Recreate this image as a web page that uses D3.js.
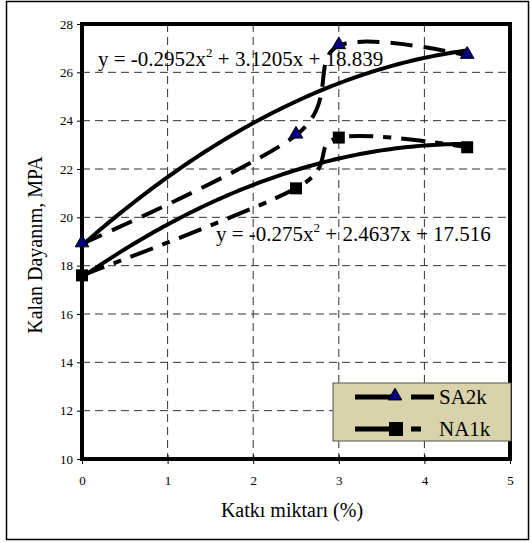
<!DOCTYPE html>
<html>
<head>
<meta charset="utf-8">
<script src="https://cdn.jsdelivr.net/npm/d3@7"></script>
<style>
	body { margin: 0; background: #fff; }
	svg text { font-family: "Liberation Serif", "Times New Roman", "DejaVu Serif", serif; }
</style>
</head>
<body>
<div id="chart"></div>
<script>
	//data
	var katki = [0, 2.5, 3, 4.5];
	var sa2k = [18.9, 23.4, 27.1, 26.7];
	var na1k = [17.6, 21.2, 23.3, 22.9];

	var seriesNames = ["SA2k", "NA1k"];

	//trendline coefficients (a, b, c) for y = ax^2 + bx + c
	var trendSA = [-0.2952, 3.1205, 18.839];
	var trendNA = [-0.275, 2.4637, 17.516];
	var trendLabels = ["y = -0.2952x", " + 3.1205x + 18.839", "y = -0.275x", " + 2.4637x + 17.516"];

	var xTicks = [0, 1, 2, 3, 4, 5];
	var yTicks = [10, 12, 14, 16, 18, 20, 22, 24, 26, 28];

	//Width and height
	var w = 531;
	var h = 543;

	//plot area edges (don't call it "top", window.top is read-only)
	var padLeft = 82, padRight = 510, padTop = 24, padBottom = 459;

	var serif = "'Liberation Serif', 'Times New Roman', serif";

	var svg = d3.select("#chart")
				.append("svg")
				.attr("width", w)
				.attr("height", h);

	//outer frame
	svg.append("rect")
	   .attr("x", 6.5).attr("y", 1.5)
	   .attr("width", 522).attr("height", 538)
	   .attr("fill", "none")
	   .attr("stroke", "#000")
	   .attr("stroke-width", 1.5);

	var x = d3.scaleLinear().domain([0, 5]).range([padLeft, padRight]);
	var y = d3.scaleLinear().domain([10, 28]).range([padBottom, padTop]);

	//grid lines
	svg.selectAll(".hgrid")
	   .data(yTicks.slice(1, -1))
	   .enter()
	   .append("line")
	   .attr("x1", padLeft).attr("x2", padRight)
	   .attr("y1", function(d) { return y(d); })
	   .attr("y2", function(d) { return y(d); })
	   .attr("stroke", "#333")
	   .attr("stroke-width", 1)
	   .attr("stroke-dasharray", "8,5");

	svg.selectAll(".vgrid")
	   .data(xTicks.slice(1, -1))
	   .enter()
	   .append("line")
	   .attr("y1", padTop).attr("y2", padBottom)
	   .attr("x1", function(d) { return x(d); })
	   .attr("x2", function(d) { return x(d); })
	   .attr("stroke", "#333")
	   .attr("stroke-width", 1)
	   .attr("stroke-dasharray", "8,5");

	//axes
	var yAxis = d3.axisLeft(y).tickValues(yTicks).tickFormat(d3.format("d")).tickSize(5).tickPadding(4);
	var xAxis = d3.axisBottom(x).tickValues(xTicks).tickFormat(d3.format("d")).tickSize(5).tickPadding(12);

	var gy = svg.append("g").attr("transform", "translate(" + padLeft + ",0)").call(yAxis);
	var gx = svg.append("g").attr("transform", "translate(0," + padBottom + ")").call(xAxis);
	gx.selectAll(".tick line").attr("y1", -4);
	[gx, gy].forEach(function(g) {
		g.attr("font-family", serif);
		g.select(".domain").remove();
		g.selectAll("text")
		 .attr("font-size", 13)
		 .attr("fill", "#000");
		g.selectAll(".tick line").attr("stroke", "#000");
	});

	//plot area border
	svg.append("rect")
	   .attr("x", padLeft).attr("y", padTop)
	   .attr("width", padRight - padLeft).attr("height", padBottom - padTop)
	   .attr("fill", "none")
	   .attr("stroke", "#000")
	   .attr("stroke-width", 4);

	//trendlines
	var trendX = d3.range(0, 4.5001, 0.05);
	function poly(c) {
		return function(t) { return c[0] * t * t + c[1] * t + c[2]; };
	}
	var trendLine = d3.line()
		.x(function(d) { return x(d[0]); })
		.y(function(d) { return y(d[1]); });

	[trendSA, trendNA].forEach(function(c) {
		var f = poly(c);
		svg.append("path")
		   .datum(trendX.map(function(t) { return [t, f(t)]; }))
		   .attr("d", trendLine)
		   .attr("fill", "none")
		   .attr("stroke", "#000")
		   .attr("stroke-width", 4);
	});

	//series lines (smoothed)
	var smooth = d3.line()
		.x(function(d) { return x(d[0]); })
		.y(function(d) { return y(d[1]); })
		.curve(d3.curveCardinal.tension(0));

	var series = [
		{ name: seriesNames[0], values: sa2k, dash: "22,11" },
		{ name: seriesNames[1], values: na1k, dash: "24,10,8,10" }
	];

	series.forEach(function(s) {
		svg.append("path")
		   .datum(katki.map(function(k, i) { return [k, s.values[i]]; }))
		   .attr("d", smooth)
		   .attr("fill", "none")
		   .attr("stroke", "#000")
		   .attr("stroke-width", 4)
		   .attr("stroke-dasharray", s.dash);
	});

	//markers
	var tri = d3.symbol().type(d3.symbolTriangle).size(80);
	svg.selectAll(".tri")
	   .data(sa2k)
	   .enter()
	   .append("path")
	   .attr("d", tri)
	   .attr("transform", function(d, i) { return "translate(" + x(katki[i]) + "," + (y(d) - 1) + ")"; })
	   .attr("fill", "#000080")
	   .attr("stroke", "#000")
	   .attr("stroke-width", 1);

	svg.selectAll(".sq")
	   .data(na1k)
	   .enter()
	   .append("rect")
	   .attr("x", function(d, i) { return x(katki[i]) - 6; })
	   .attr("y", function(d) { return y(d) - 6; })
	   .attr("width", 12).attr("height", 12)
	   .attr("fill", "#000");

	//trendline equations
	function equation(px, py, a, b) {
		var t = svg.append("text")
		   .attr("x", px).attr("y", py)
		   .attr("font-family", serif)
		   .attr("font-size", 21)
		   .attr("fill", "#000");
		t.append("tspan").text(a);
		t.append("tspan").attr("dy", -9).attr("font-size", 13).text("2");
		t.append("tspan").attr("dy", 9).text(b);
	}
	equation(98, 66, trendLabels[0], trendLabels[1]);
	equation(216, 241, trendLabels[2], trendLabels[3]);

	//legend
	var lg = svg.append("g");
	lg.append("rect")
	  .attr("x", 333).attr("y", 383)
	  .attr("width", 178).attr("height", 58)
	  .attr("fill", "#d8d3aa")
	  .attr("stroke", "#555")
	  .attr("stroke-width", 1);

	var legendY = [397, 429];
	lg.selectAll(".lline")
	  .data(seriesNames)
	  .enter()
	  .append("line")
	  .attr("x1", 355).attr("x2", 397)
	  .attr("y1", function(d, i) { return legendY[i]; })
	  .attr("y2", function(d, i) { return legendY[i]; })
	  .attr("stroke", "#000").attr("stroke-width", 5);
	lg.selectAll(".ldash")
	  .data(seriesNames)
	  .enter()
	  .append("line")
	  .attr("x1", 411)
	  .attr("x2", function(d, i) { return i == 0 ? 434 : 421; })
	  .attr("y1", function(d, i) { return legendY[i]; })
	  .attr("y2", function(d, i) { return legendY[i]; })
	  .attr("stroke", "#000").attr("stroke-width", 5);
	lg.append("path")
	  .attr("d", tri)
	  .attr("transform", "translate(395," + (legendY[0] - 1) + ")")
	  .attr("fill", "#000080").attr("stroke", "#000").attr("stroke-width", 1);
	lg.append("rect")
	  .attr("x", 389).attr("y", legendY[1] - 7)
	  .attr("width", 14).attr("height", 14)
	  .attr("fill", "#000");
	lg.selectAll(".ltext")
	  .data(seriesNames)
	  .enter()
	  .append("text")
	  .attr("x", 439)
	  .attr("y", function(d, i) { return legendY[i] + 7; })
	  .attr("font-family", serif)
	  .attr("font-size", 21)
	  .text(function(d) { return d; });

	//axis titles
	svg.append("text")
	   .attr("x", 292).attr("y", 517)
	   .attr("text-anchor", "middle")
	   .attr("font-family", serif)
	   .attr("font-size", 20)
	   .text("Katkı miktarı (%)");

	svg.append("text")
	   .attr("transform", "translate(42,245) rotate(-90)")
	   .attr("text-anchor", "middle")
	   .attr("font-family", serif)
	   .attr("font-size", 20)
	   .text("Kalan Dayanım, MPA");
</script>
</body>
</html>
